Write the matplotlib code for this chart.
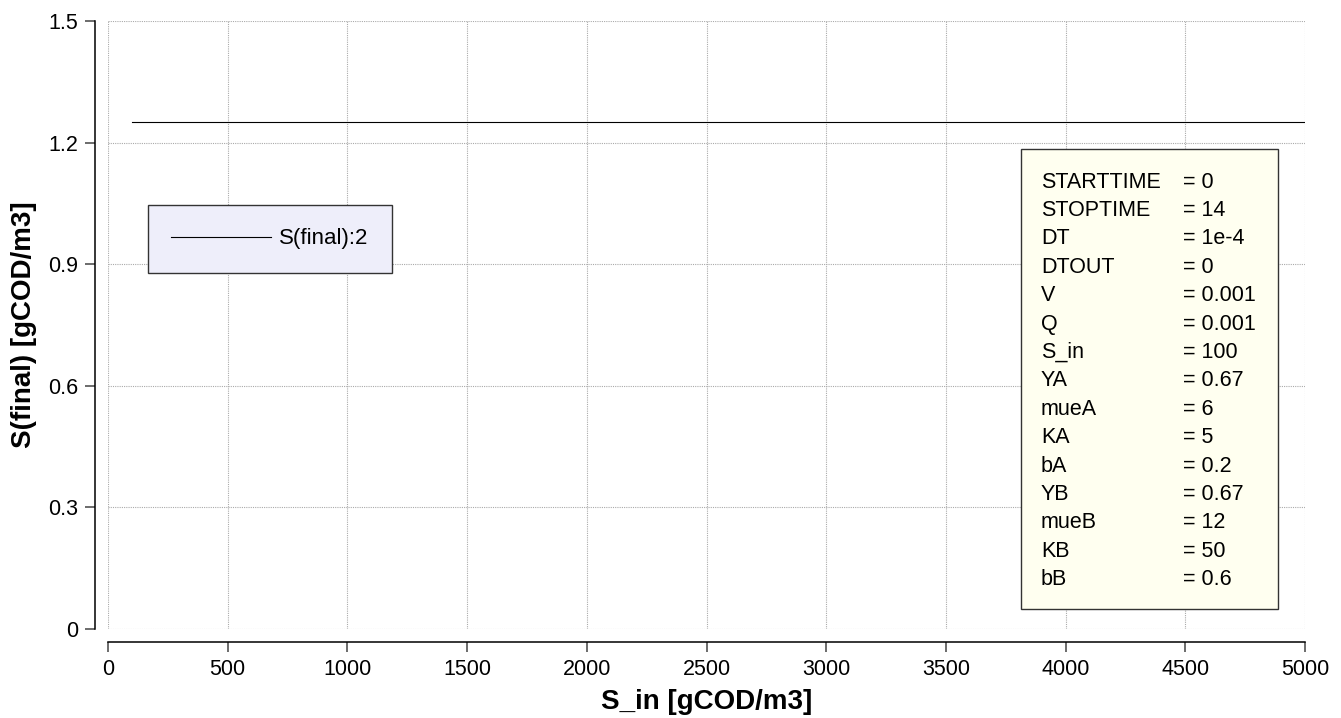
import numpy as np
import matplotlib
matplotlib.use("Agg")
import matplotlib.pyplot as plt
from matplotlib.patches import Rectangle

# data: parameter sweep of S_in, steady state S(final)
s_in = [100, 500, 1000, 1500, 2000, 2500, 3000, 3500, 4000, 4500, 5000]
s_final = [1.25, 1.25, 1.25, 1.25, 1.25, 1.25, 1.25, 1.25, 1.25, 1.25, 1.25]
series_name = "S(final):2"

x_ticks = [0, 500, 1000, 1500, 2000, 2500, 3000, 3500, 4000, 4500, 5000]
y_ticks = [0, 0.3, 0.6, 0.9, 1.2, 1.5]
y_ticklabels = ["0", "0.3", "0.6", "0.9", "1.2", "1.5"]

param_names = ["STARTTIME", "STOPTIME", "DT", "DTOUT", "V", "Q", "S_in", "YA",
               "mueA", "KA", "bA", "YB", "mueB", "KB", "bB"]
param_values = ["0", "14", "1e-4", "0", "0.001", "0.001", "100", "0.67",
                "6", "5", "0.2", "0.67", "12", "50", "0.6"]

plt.rcParams['font.family'] = ['Liberation Sans', 'DejaVu Sans']

W, H = 1341, 718
fig = plt.figure(figsize=(W / 100, H / 100), dpi=100)


def fx(px):
    return px / W


def fy(py):
    return 1 - py / H


ax = fig.add_axes([fx(108), fy(629), fx(1305) - fx(108), fy(21) - fy(629)])

ax.plot(s_in, s_final, color="black", lw=0.8, label=series_name)

ax.set_xlim(0, 5000)
ax.set_ylim(0, 1.5)
ax.set_xticks(x_ticks)
ax.set_yticks(y_ticks)
ax.set_yticklabels(y_ticklabels)
ax.tick_params(labelsize=15.5, length=7, width=1.1, color="#444444", pad=5)

ax.spines['top'].set_visible(False)
ax.spines['right'].set_visible(False)
ax.spines['left'].set_position(('outward', 9.4))
ax.spines['bottom'].set_position(('outward', 9.4))
ax.spines['left'].set_linewidth(1.1)
ax.spines['bottom'].set_linewidth(1.1)

ax.grid(True, color="#aaaaaa", linestyle=(0, (1, 1)), linewidth=0.8)

ax.set_xlabel("S_in [gCOD/m3]", fontsize=20, fontweight="bold", labelpad=7)
ax.set_ylabel("S(final) [gCOD/m3]", fontsize=20, fontweight="bold", labelpad=8)

# legend
leg = ax.legend(loc="upper left", bbox_to_anchor=(fx(148), fy(205)),
                bbox_transform=fig.transFigure, fontsize=16,
                handlelength=4.5, handletextpad=0.35, borderpad=1.05,
                borderaxespad=0, fancybox=False, framealpha=1)
leg.get_frame().set_facecolor("#eeeefa")
leg.get_frame().set_edgecolor("#333333")
leg.get_frame().set_linewidth(1.0)

# parameter box
fig.patches.append(Rectangle((fx(1021), fy(609)), fx(1278) - fx(1021), fy(149) - fy(609),
                             transform=fig.transFigure, facecolor="#fffff0",
                             edgecolor="#333333", linewidth=1.0, zorder=5))
for i, (n, v) in enumerate(zip(param_names, param_values)):
    ypos = fy(182 + i * 28.4)
    fig.text(fx(1041), ypos, n, fontsize=15.5, va="center", ha="left", zorder=6)
    fig.text(fx(1183), ypos, "= " + v, fontsize=15.5, va="center", ha="left", zorder=6)

fig.savefig("out.png", dpi=100)
